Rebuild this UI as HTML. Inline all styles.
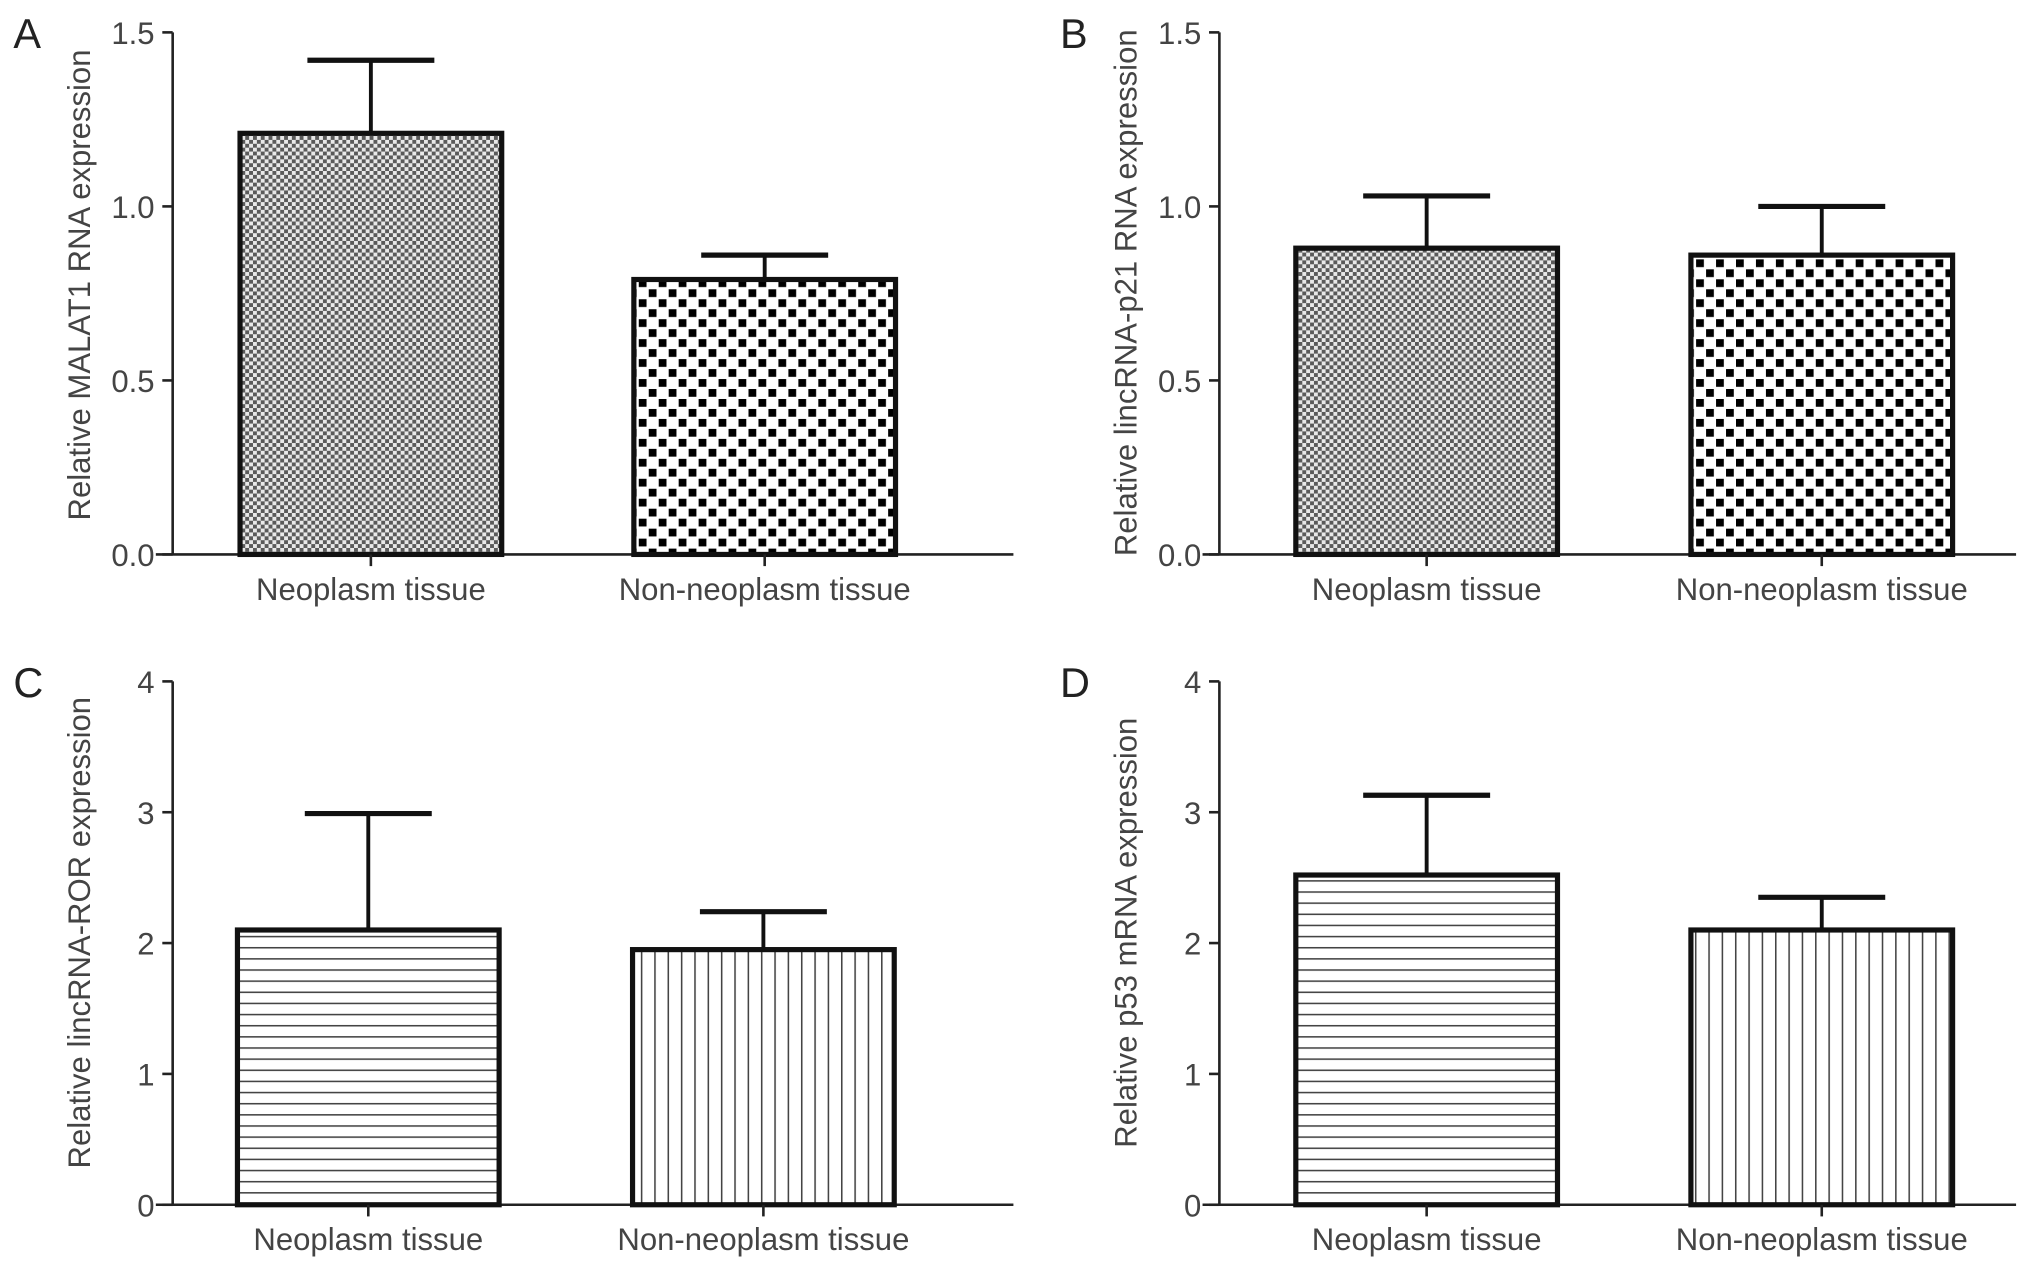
<!DOCTYPE html>
<html><head><meta charset="utf-8"><style>
html,body{margin:0;padding:0;background:#fff}
svg{display:block}
text{font-family:"Liberation Sans",sans-serif}
</style></head><body>
<svg id="fig" width="2032" height="1276" viewBox="0 0 1568 985" xmlns="http://www.w3.org/2000/svg">
<defs>
<pattern id="fine" patternUnits="userSpaceOnUse" width="6" height="6"><rect width="6" height="6" fill="#e8e8e8"/><rect width="3" height="3" fill="#5a5a5a"/><rect x="3" y="3" width="3" height="3" fill="#5a5a5a"/></pattern>
<pattern id="coarse" patternUnits="userSpaceOnUse" width="15.4" height="15.4"><rect width="15.4" height="15.4" fill="#fff"/><rect width="6" height="6" fill="#000"/><rect x="7.7" y="7.7" width="6" height="6" fill="#000"/></pattern>
<pattern id="hlines" patternUnits="userSpaceOnUse" width="10" height="8.6"><rect width="10" height="8.6" fill="#fff"/><rect y="0" width="10" height="1.2" fill="#444"/></pattern>
<pattern id="vlines" patternUnits="userSpaceOnUse" width="10.3" height="10"><rect width="10.3" height="10" fill="#fff"/><rect x="0" width="1.2" height="10" fill="#444"/></pattern>
</defs>
</svg>
<script>
const categories = ["Neoplasm tissue", "Non-neoplasm tissue"];
const malat1Means = [1.21, 0.79];
const malat1Err = [1.42, 0.86];
const p21Means = [0.88, 0.86];
const p21Err = [1.03, 1.00];
const rorMeans = [2.10, 1.95];
const rorErr = [2.99, 2.24];
const p53Means = [2.52, 2.10];
const p53Err = [3.13, 2.35];
const ticksAB = ["0.0", "0.5", "1.0", "1.5"];
const ticksCD = ["0", "1", "2", "3", "4"];

const svg = document.getElementById('fig');
const NS = "http://www.w3.org/2000/svg";
function mk(tag, attrs, parent){const e=document.createElementNS(NS,tag);for(const k in attrs)e.setAttribute(k,attrs[k]);(parent||svg).appendChild(e);return e;}

function panel(cfg){
  const g = mk('g',{});
  
  
  const y = v => cfg.y0 - (v / cfg.max) * (cfg.y0 - cfg.yTop);
  const barW = 202;
  const centers = [cfg.ax + cfg.off[0], cfg.ax + cfg.off[1]];
  const L = mk('text',{x:cfg.lx,y:cfg.yTop+12,'font-size':32,fill:'#222'},g);
  L.textContent = cfg.letter;
  
  
  const ya = mk('line',{x1:cfg.ax,y1:cfg.yTop,x2:cfg.ax,y2:cfg.y0,stroke:'#222','stroke-width':2},g);
  
  
  cfg.ticks.forEach(t=>{
    const v = parseFloat(t);
    mk('line',{x1:cfg.ax-8,y1:y(v),x2:cfg.ax,y2:y(v),stroke:'#222','stroke-width':2},g);
    const tx = mk('text',{x:cfg.ax-14,y:y(v)+9,'font-size':24,fill:'#444','text-anchor':'end'},g);
    tx.textContent = t;
    
    
  });
  const yt = mk('text',{x:0,y:0,'font-size':24,fill:'#444','text-anchor':'middle',transform:`translate(${cfg.ax-64},${cfg.tyc}) rotate(-90)`},g);
  yt.textContent = cfg.title;
  
  
  const xa = mk('line',{x1:cfg.ax-13,y1:cfg.y0,x2:cfg.ax+cfg.xlen,y2:cfg.y0,stroke:'#222','stroke-width':2},g);
  
  
  categories.forEach((c,i)=>{
    const cx = centers[i];
    const top = y(cfg.means[i]);
    const eb = y(cfg.err[i]);
    const eline = mk('line',{x1:cx,y1:top,x2:cx,y2:eb,stroke:'#111','stroke-width':3},g);
    
    
    const cap = mk('line',{x1:cx-49,y1:eb,x2:cx+49,y2:eb,stroke:'#111','stroke-width':4},g);
    
    
    const r = mk('rect',{x:cx-barW/2,y:top,width:barW,height:cfg.y0-top,fill:`url(#${cfg.fills[i]})`,stroke:'#111','stroke-width':4},g);
    
    
    mk('line',{x1:cx,y1:cfg.y0,x2:cx,y2:cfg.y0+9,stroke:'#222','stroke-width':2},g);
    const xl = mk('text',{x:cx,y:cfg.y0+35,'font-size':24,fill:'#444','text-anchor':'middle'},g);
    xl.textContent = c;
    
    
  });
}
panel({letter:'A',lx:10,ax:133,yTop:25,y0:428,max:1.5,off:[153,457],xlen:649,tyc:220,ticks:ticksAB,means:malat1Means,err:malat1Err,title:'Relative MALAT1 RNA expression',fills:['fine','coarse']});
panel({letter:'B',lx:818,ax:941,yTop:25,y0:428,max:1.5,off:[160,465],xlen:615,tyc:226,ticks:ticksAB,means:p21Means,err:p21Err,title:'Relative lincRNA-p21 RNA expression',fills:['fine','coarse']});
panel({letter:'C',lx:10,ax:133,yTop:526,y0:930,max:4,off:[151,456],xlen:649,tyc:720,ticks:ticksCD,means:rorMeans,err:rorErr,title:'Relative lincRNA-ROR expression',fills:['hlines','vlines']});
panel({letter:'D',lx:818,ax:941,yTop:526,y0:930,max:4,off:[160,465],xlen:615,tyc:720,ticks:ticksCD,means:p53Means,err:p53Err,title:'Relative p53 mRNA expression',fills:['hlines','vlines']});
</script>
</body></html>
